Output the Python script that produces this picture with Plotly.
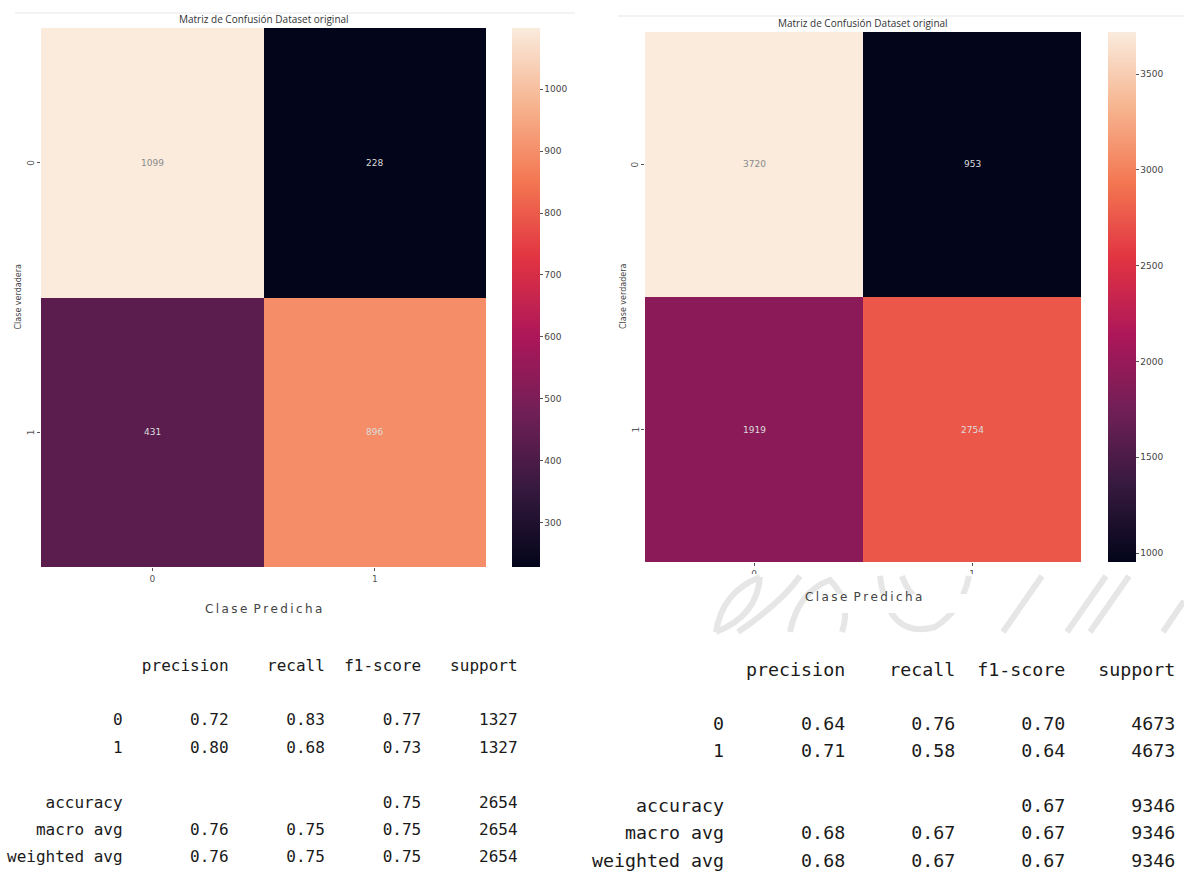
import plotly.graph_objects as go

W, H = 1184, 873

# ---- confusion matrices -------------------------------------------------
class_labels = ["0", "1"]
cm_left = [[1099, 228], [431, 896]]
cm_right = [[3720, 953], [1919, 2754]]
title_text = "Matriz de Confusión Dataset original"
x_title = "Clase Predicha"
y_title = "Clase verdadera"

cb_ticks_left = [300, 400, 500, 600, 700, 800, 900, 1000]
cb_ticks_right = [1000, 1500, 2000, 2500, 3000, 3500]

# ---- classification reports --------------------------------------------
report_headers = ["precision", "recall", "f1-score", "support"]

left_precision = [0.72, 0.80]
left_recall = [0.83, 0.68]
left_f1 = [0.77, 0.73]
left_support = [1327, 1327]
left_accuracy = 0.75
left_macro = [0.76, 0.75, 0.75]
left_weighted = [0.76, 0.75, 0.75]
left_total = 2654

right_precision = [0.64, 0.71]
right_recall = [0.76, 0.58]
right_f1 = [0.70, 0.64]
right_support = [4673, 4673]
right_accuracy = 0.67
right_macro = [0.68, 0.67, 0.67]
right_weighted = [0.68, 0.67, 0.67]
right_total = 9346

# seaborn "rocket" colormap
rocket = [
    [0.0, "#03051a"], [1 / 7, "#35193e"], [2 / 7, "#701f57"], [3 / 7, "#ad1759"],
    [4 / 7, "#e13342"], [5 / 7, "#f37651"], [6 / 7, "#f6b48f"], [1.0, "#faebdd"],
]


def px_x(p):
    return p / W


def px_y(p):
    return 1 - p / H


def report_lines(prec, rec, f1, sup, acc, macro, weighted, total):
    w = 12
    lines = [" " * w + " " + "".join(f" {h:>9}" for h in report_headers), ""]
    for i, c in enumerate(class_labels):
        lines.append(f"{c:>{w}} " + f" {prec[i]:>9.2f} {rec[i]:>9.2f} {f1[i]:>9.2f} {sup[i]:>9}")
    lines.append("")
    lines.append(f"{'accuracy':>{w}} " + f" {'':>9} {'':>9} {acc:>9.2f} {total:>9}")
    lines.append(f"{'macro avg':>{w}} " + f" {macro[0]:>9.2f} {macro[1]:>9.2f} {macro[2]:>9.2f} {total:>9}")
    lines.append(f"{'weighted avg':>{w}} " + f" {weighted[0]:>9.2f} {weighted[1]:>9.2f} {weighted[2]:>9.2f} {total:>9}")
    return lines


panels = [
    dict(cm=cm_left, ticks=cb_ticks_left, xa="x", ya="y", hx=(41, 486), hy=(28, 567),
         cbx=512, title_y=19, xtitle_y=609, ylab_x=31, ytitle_x=18,
         rep=report_lines(left_precision, left_recall, left_f1, left_support,
                          left_accuracy, left_macro, left_weighted, left_total),
         rep_x=5, rep_y0=665, rep_lh=27.4, rep_size=16),
    dict(cm=cm_right, ticks=cb_ticks_right, xa="x2", ya="y2", hx=(645, 1081), hy=(32, 562),
         cbx=1108, title_y=23, xtitle_y=597, ylab_x=635, ytitle_x=623,
         rep=report_lines(right_precision, right_recall, right_f1, right_support,
                          right_accuracy, right_macro, right_weighted, right_total),
         rep_x=590, rep_y0=669, rep_lh=27.3, rep_size=18.3),
]

fig = go.Figure()
annotations = []
shapes = []
layout_axes = {}

for k, p in enumerate(panels):
    z = p["cm"]
    zmin = min(min(r) for r in z)
    zmax = max(max(r) for r in z)
    suffix = "" if k == 0 else str(k + 1)
    cb_len = p["hy"][1] - p["hy"][0]
    fig.add_trace(go.Heatmap(
        z=z, x=[0, 1], y=[0, 1], xaxis=p["xa"], yaxis=p["ya"],
        colorscale=rocket, zmin=zmin, zmax=zmax, xgap=0, ygap=0,
        colorbar=dict(
            x=px_x(p["cbx"]), xanchor="left", xref="paper",
            y=px_y(p["hy"][0]), yanchor="top", yref="paper",
            len=cb_len, lenmode="pixels", thickness=28, thicknessmode="pixels",
            outlinewidth=0, tickvals=p["ticks"], ticks="outside", ticklen=3,
            tickcolor="#555", tickfont=dict(size=9, color="#444", family="DejaVu Sans"),
            xpad=0, ypad=0,
        ),
        hoverinfo="z",
    ))
    layout_axes["xaxis" + suffix] = dict(
        domain=[px_x(p["hx"][0]), px_x(p["hx"][1])], anchor=p["ya"],
        range=[-0.5, 1.5], tickvals=[0, 1], ticktext=class_labels,
        showgrid=False, zeroline=False, showline=False, ticks="outside", ticklen=3,
        tickcolor="#555", tickfont=dict(size=9, color="#555", family="DejaVu Sans"),
        showticklabels=True, fixedrange=True,
    )
    layout_axes["yaxis" + suffix] = dict(
        domain=[px_y(p["hy"][1]), px_y(p["hy"][0])], anchor=p["xa"],
        range=[1.5, -0.5], tickvals=[0, 1], ticktext=class_labels,
        showgrid=False, zeroline=False, showline=False, ticks="outside", ticklen=3,
        tickcolor="#555", showticklabels=False, fixedrange=True,
    )

    # cell values
    for i in range(2):
        for j in range(2):
            v = z[i][j]
            frac = (v - zmin) / (zmax - zmin)
            annotations.append(dict(
                x=j, y=i, xref=p["xa"], yref=p["ya"], xanchor="center", yanchor="middle",
                text=str(v), showarrow=False,
                font=dict(size=9, family="DejaVu Sans", color="#8a8a8a" if frac > 0.85 else "#dcdcdc"),
            ))

    cx = (p["hx"][0] + p["hx"][1]) / 2
    # title
    annotations.append(dict(
        x=px_x(cx), y=px_y(p["title_y"]), xref="paper", yref="paper",
        xanchor="center", yanchor="middle", text=title_text, showarrow=False,
        font=dict(size=10, family="Open Sans", color="#333"),
    ))
    # y tick labels (rotated)
    for i, lab in enumerate(class_labels):
        annotations.append(dict(
            x=px_x(p["ylab_x"]), y=i, xref="paper", yref=p["ya"], xanchor="center", yanchor="middle",
            text=lab, showarrow=False, textangle=-90,
            font=dict(size=9, family="DejaVu Sans", color="#555"),
        ))
    # y axis title
    annotations.append(dict(
        x=px_x(p["ytitle_x"]), y=px_y((p["hy"][0] + p["hy"][1]) / 2), xref="paper", yref="paper",
        xanchor="center", yanchor="middle", text=y_title, showarrow=False, textangle=-90,
        font=dict(size=8, family="DejaVu Sans", color="#444"),
    ))
    # classification report, one line per annotation
    for n, line in enumerate(p["rep"]):
        if not line:
            continue
        annotations.append(dict(
            x=px_x(p["rep_x"]), y=px_y(p["rep_y0"] + n * p["rep_lh"]), xref="paper", yref="paper",
            xanchor="left", yanchor="middle", text=line.replace(" ", "\u00a0"), showarrow=False,
            font=dict(size=p["rep_size"], family="DejaVu Sans Mono", color="#1a1a1a"),
        ))


def rect_px(x0, y0, x1, y1, color):
    return dict(type="rect", xref="paper", yref="paper", layer="above",
                x0=px_x(x0), x1=px_x(x1), y0=px_y(y1), y1=px_y(y0),
                fillcolor=color, line=dict(width=0))


def path_px(cmds, color="#e6e6e6", width=6):
    out = []
    for c in cmds:
        if isinstance(c, str):
            out.append(c)
        else:
            out.append(f"{px_x(c[0]):.5f},{px_y(c[1]):.5f}")
    return dict(type="path", xref="paper", yref="paper", layer="above",
                path=" ".join(out), line=dict(color=color, width=width))


# faint separator lines along the top
shapes.append(dict(type="line", xref="paper", yref="paper", layer="below",
                   x0=px_x(15), x1=px_x(575), y0=px_y(13), y1=px_y(13),
                   line=dict(color="#f3f3f3", width=2)))
shapes.append(dict(type="line", xref="paper", yref="paper", layer="below",
                   x0=px_x(618), x1=px_x(1184), y0=px_y(16), y1=px_y(16),
                   line=dict(color="#f3f3f3", width=2)))

# decorative backdrop under the right-hand x axis title
shapes.append(rect_px(711, 574, 1184, 632, "white"))
for cmds in [
    ["M", (716, 632), "Q", (722, 592), (760, 577)],
    ["M", (716, 632), "Q", (757, 616), (760, 577)],
    ["M", (738, 632), "Q", (782, 602), (800, 576)],
    ["M", (790, 632), "Q", (798, 592), (830, 580), "Q", (852, 602), (842, 632)],
    ["M", (880, 576), "Q", (888, 640), (935, 627), "Q", (962, 610), (969, 576)],
    ["M", (902, 576), "Q", (915, 612), (944, 601)],
    ["M", (1003, 632), "L", (1042, 576)],
    ["M", (1067, 632), "L", (1106, 576)],
    ["M", (1090, 632), "L", (1129, 576)],
    ["M", (1163, 632), "L", (1184, 601)],
]:
    shapes.append(path_px(cmds))
shapes.append(rect_px(832, 594, 1007, 613, "white"))

# x axis titles drawn last so they sit on top of the backdrop (thin spaces widen the tracking)
spaced_x_title = "\u2009".join(x_title).replace("\u2009 \u2009", "\u00a0\u2009")
for p in panels:
    cx = (p["hx"][0] + p["hx"][1]) / 2
    annotations.append(dict(
        x=px_x(cx), y=px_y(p["xtitle_y"]), xref="paper", yref="paper",
        xanchor="center", yanchor="middle", text=spaced_x_title, showarrow=False,
        font=dict(size=12, family="DejaVu Sans", color="#444"),
    ))

fig.update_layout(
    width=W, height=H, margin=dict(l=0, r=0, t=0, b=0),
    paper_bgcolor="white", plot_bgcolor="white",
    annotations=annotations, shapes=shapes, showlegend=False,
    **layout_axes,
)

fig.write_html("out.html")
